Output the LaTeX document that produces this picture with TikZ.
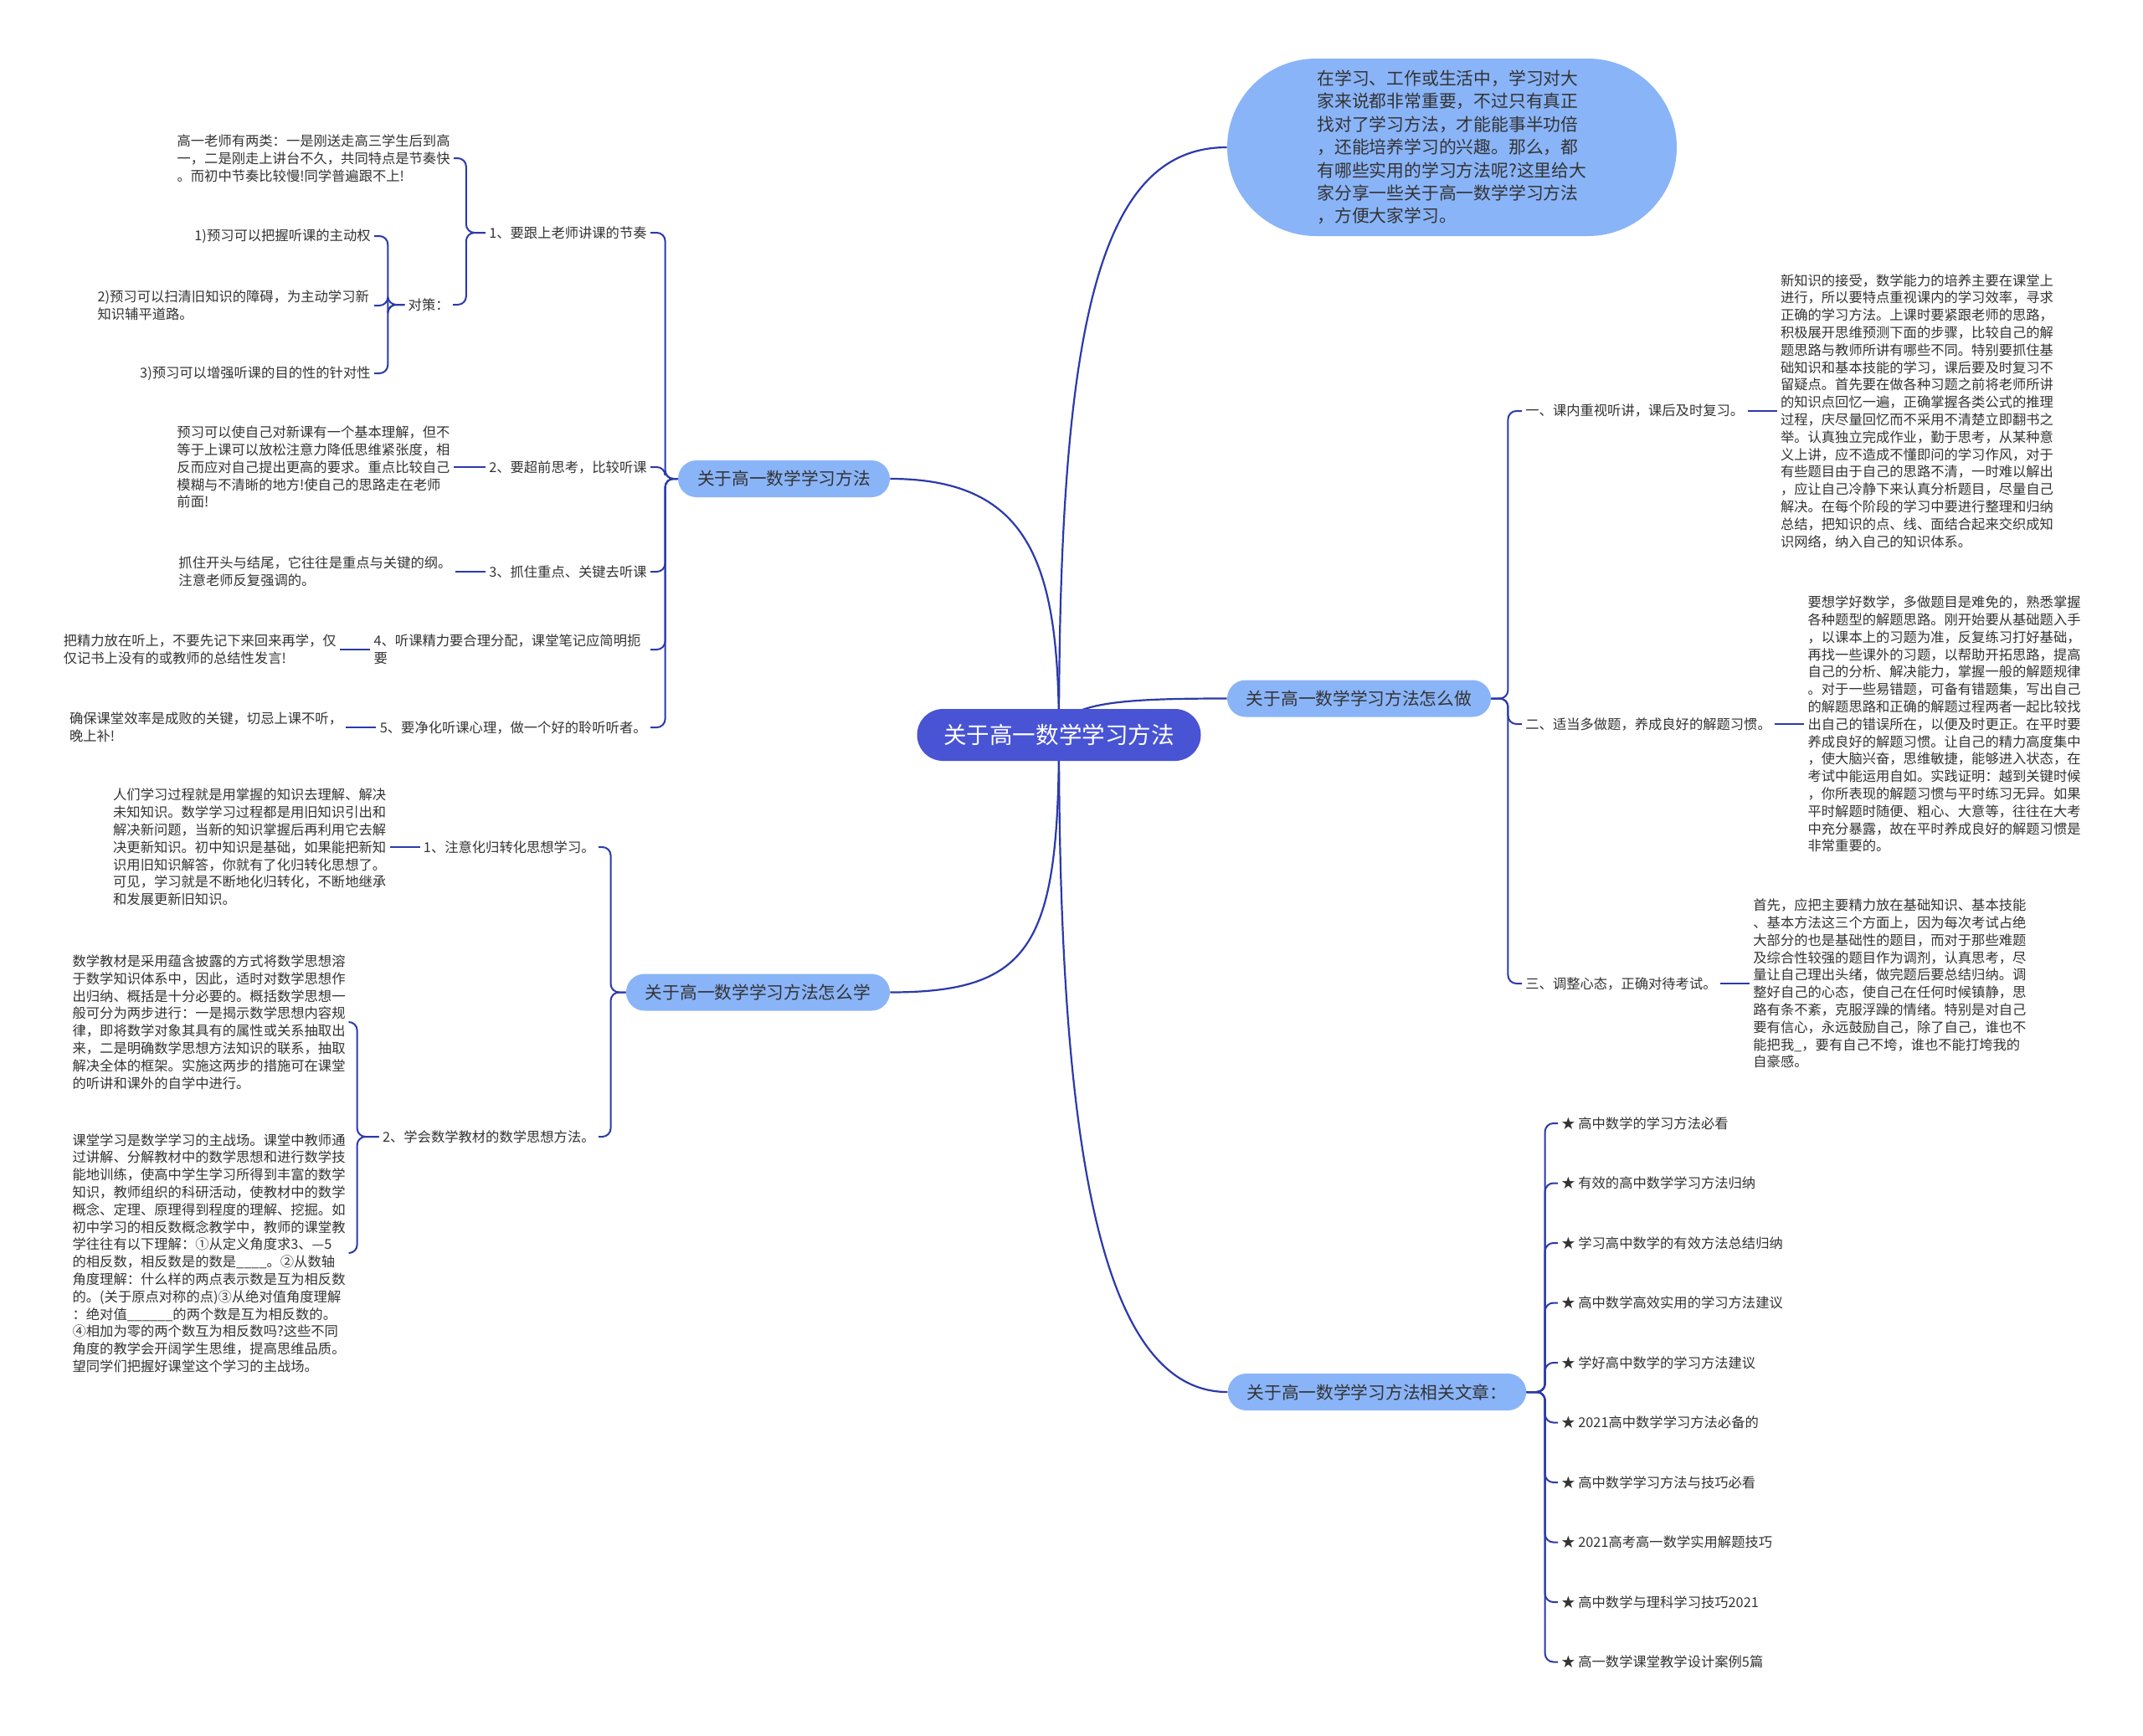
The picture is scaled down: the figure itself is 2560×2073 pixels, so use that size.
\documentclass[tikz,border=0pt]{standalone}
\usepackage{fontspec}
\setmainfont{Noto Sans CJK SC}
\usetikzlibrary{positioning,backgrounds}
\definecolor{linkblue}{RGB}{43,58,170}
\definecolor{rootblue}{RGB}{72,84,212}
\definecolor{topicblue}{RGB}{138,180,248}
\definecolor{inkgray}{RGB}{51,51,51}

\begin{document}
\begin{tikzpicture}[x=0.5pt,y=-0.5pt,node distance=18pt,
  rootbox/.style={fill=rootblue,text=white,rounded corners=15.5pt,minimum width=169.5pt,minimum height=31pt,inner sep=0pt,font=\fontsize{13.8}{16}\selectfont},
  topicbox/.style={fill=topicblue,text=inkgray,rounded corners=11pt,minimum height=22pt,inner xsep=11.5pt,inner ysep=0pt,font=\fontsize{10.35}{12}\selectfont},
  leaf/.style={text=inkgray,inner xsep=2pt,inner ysep=2pt,font=\fontsize{8.15}{10.4}\selectfont},
  note/.style={leaf,align=left,text width=163pt},
  link/.style={draw=linkblue,line width=1pt,rounded corners=5pt},
  trunk/.style={draw=linkblue,line width=1.1pt}]
  \useasboundingbox (0,0) rectangle (2560,2073);

  % centre and main topics
  \node[rootbox] (root) at (1265,878) {关于高一数学学习方法};
  \node[topicbox,minimum width=268.5pt,minimum height=106pt,rounded corners=53pt,font=\fontsize{10.4}{13.7}\selectfont,align=left,text width=161pt] (intro) at (1734.5,176)
    {在学习、工作或生活中，学习对大\\家来说都非常重要，不过只有真正\\找对了学习方法，才能能事半功倍\\，还能培养学习的兴趣。那么，都\\有哪些实用的学习方法呢?这里给大\\家分享一些关于高一数学学习方法\\，方便大家学习。};
  \node[topicbox] (b1) at (936.5,572) {关于高一数学学习方法};
  \node[topicbox] (b2) at (1623.5,834.5) {关于高一数学学习方法怎么做};
  \node[topicbox] (b3) at (905.5,1185.5) {关于高一数学学习方法怎么学};
  \node[topicbox] (b4) at (1645,1663) {关于高一数学学习方法相关文章：};

  % left, upper
  \node[leaf,anchor=east] (c1) at (777,278) {1、要跟上老师讲课的节奏};
  \node[leaf,anchor=east] (c2) at (777,558) {2、要超前思考，比较听课};
  \node[leaf,anchor=east] (c3) at (777,683) {3、抓住重点、关键去听课};
  \node[note,anchor=east] (c4) at (777,776) {4、听课精力要合理分配，课堂笔记应简明扼\\要};
  \node[leaf,anchor=east] (c5) at (777,869) {5、要净化听课心理，做一个好的聆听听者。};

  \node[note,anchor=east] (c1a) at (542,189)
    {高一老师有两类：一是刚送走高三学生后到高\\一，二是刚走上讲台不久，共同特点是节奏快\\。而初中节奏比较慢!同学普遍跟不上!};
  \node[leaf,anchor=east] (c1b) at (541,364) {对策：};
  \node[leaf,anchor=east] (c1b1) at (447,282) {1)预习可以把握听课的主动权};
  \node[note,anchor=east] (c1b2) at (447,365) {2)预习可以扫清旧知识的障碍，为主动学习新\\知识辅平道路。};
  \node[leaf,anchor=east] (c1b3) at (447,446) {3)预习可以增强听课的目的性的针对性};

  \node[note,left=19pt of c2] (c2a)
    {预习可以使自己对新课有一个基本理解，但不\\等于上课可以放松注意力降低思维紧张度，相\\反而应对自己提出更高的要求。重点比较自己\\模糊与不清晰的地方!使自己的思路走在老师\\前面!};
  \node[note,left=of c3] (c3a) {抓住开头与结尾，它往往是重点与关键的纲。\\注意老师反复强调的。};
  \node[note,left=of c4] (c4a) {把精力放在听上，不要先记下来回来再学，仅\\仅记书上没有的或教师的总结性发言!};
  \node[note,left=of c5] (c5a) {确保课堂效率是成败的关键，切忌上课不听，\\晚上补!};

  % left, lower
  \node[leaf,anchor=east] (d1) at (715,1012) {1、注意化归转化思想学习。};
  \node[leaf,anchor=east] (d2) at (715,1358) {2、学会数学教材的数学思想方法。};
  \node[note,left=of d1] (d1a)
    {人们学习过程就是用掌握的知识去理解、解决\\未知知识。数学学习过程都是用旧知识引出和\\解决新问题，当新的知识掌握后再利用它去解\\决更新知识。初中知识是基础，如果能把新知\\识用旧知识解答，你就有了化归转化思想了。\\可见，学习就是不断地化归转化，不断地继承\\和发展更新旧知识。};
  \node[note,anchor=east] (d2a) at (417,1221)
    {数学教材是采用蕴含披露的方式将数学思想溶\\于数学知识体系中，因此，适时对数学思想作\\出归纳、概括是十分必要的。概括数学思想一\\般可分为两步进行：一是揭示数学思想内容规\\律，即将数学对象其具有的属性或关系抽取出\\来，二是明确数学思想方法知识的联系，抽取\\解决全体的框架。实施这两步的措施可在课堂\\的听讲和课外的自学中进行。};
  \node[note,anchor=east] (d2b) at (417,1497)
    {课堂学习是数学学习的主战场。课堂中教师通\\过讲解、分解教材中的数学思想和进行数学技\\能地训练，使高中学生学习所得到丰富的数学\\知识，教师组织的科研活动，使教材中的数学\\概念、定理、原理得到程度的理解、挖掘。如\\初中学习的相反数概念教学中，教师的课堂教\\学往往有以下理解：①从定义角度求3、—5\\的相反数，相反数是的数是\_\_\_\_。②从数轴\\角度理解：什么样的两点表示数是互为相反数\\的。(关于原点对称的点)③从绝对值角度理解\\：绝对值\_\_\_\_\_\_的两个数是互为相反数的。\\④相加为零的两个数互为相反数吗?这些不同\\角度的教学会开阔学生思维，提高思维品质。\\望同学们把握好课堂这个学习的主战场。};

  % right
  \node[leaf,anchor=west] (r1) at (1818,491) {一、课内重视听讲，课后及时复习。};
  \node[leaf,anchor=west] (r2) at (1818,865) {二、适当多做题，养成良好的解题习惯。};
  \node[leaf,anchor=west] (r3) at (1818,1175) {三、调整心态，正确对待考试。};
  \node[note,right=17.5pt of r1] (r1a)
    {新知识的接受，数学能力的培养主要在课堂上\\进行，所以要特点重视课内的学习效率，寻求\\正确的学习方法。上课时要紧跟老师的思路，\\积极展开思维预测下面的步骤，比较自己的解\\题思路与教师所讲有哪些不同。特别要抓住基\\础知识和基本技能的学习，课后要及时复习不\\留疑点。首先要在做各种习题之前将老师所讲\\的知识点回忆一遍，正确掌握各类公式的推理\\过程，庆尽量回忆而不采用不清楚立即翻书之\\举。认真独立完成作业，勤于思考，从某种意\\义上讲，应不造成不懂即问的学习作风，对于\\有些题目由于自己的思路不清，一时难以解出\\，应让自己冷静下来认真分析题目，尽量自己\\解决。在每个阶段的学习中要进行整理和归纳\\总结，把知识的点、线、面结合起来交织成知\\识网络，纳入自己的知识体系。};
  \node[note,right=17.5pt of r2] (r2a)
    {要想学好数学，多做题目是难免的，熟悉掌握\\各种题型的解题思路。刚开始要从基础题入手\\，以课本上的习题为准，反复练习打好基础，\\再找一些课外的习题，以帮助开拓思路，提高\\自己的分析、解决能力，掌握一般的解题规律\\。对于一些易错题，可备有错题集，写出自己\\的解题思路和正确的解题过程两者一起比较找\\出自己的错误所在，以便及时更正。在平时要\\养成良好的解题习惯。让自己的精力高度集中\\，使大脑兴奋，思维敏捷，能够进入状态，在\\考试中能运用自如。实践证明：越到关键时候\\，你所表现的解题习惯与平时练习无异。如果\\平时解题时随便、粗心、大意等，往往在大考\\中充分暴露，故在平时养成良好的解题习惯是\\非常重要的。};
  \node[note,right=17.5pt of r3] (r3a)
    {首先，应把主要精力放在基础知识、基本技能\\、基本方法这三个方面上，因为每次考试占绝\\大部分的也是基础性的题目，而对于那些难题\\及综合性较强的题目作为调剂，认真思考，尽\\量让自己理出头绪，做完题后要总结归纳。调\\整好自己的心态，使自己在任何时候镇静，思\\路有条不紊，克服浮躁的情绪。特别是对自己\\要有信心，永远鼓励自己，除了自己，谁也不\\能把我\_，要有自己不垮，谁也不能打垮我的\\自豪感。};

  \foreach \ttl [count=\i] in {高中数学的学习方法必看,有效的高中数学学习方法归纳,学习高中数学的有效方法总结归纳,高中数学高效实用的学习方法建议,学好高中数学的学习方法建议,2021高中数学学习方法必备的,高中数学学习方法与技巧必看,2021高考高一数学实用解题技巧,高中数学与理科学习技巧2021,高一数学课堂教学设计案例5篇}
    {\node[leaf,anchor=west] (s\i) at (1861,{1342+71.5*(\i-1)}) {★ \ttl};}

  % connectors
  \begin{scope}[on background layer]
    \fill[white] (0,0) rectangle (2560,2073);
    \draw[trunk] (root.center) .. controls +(0,-500) and +(-150,0) .. (intro.west);
    \draw[trunk] (root.center) .. controls +(0,-200) and +(170,0) .. (b1.east);
    \draw[trunk] (root.center) .. controls +(0,-40) and +(-120,0) .. (b2.west);
    \draw[trunk] (root.center) .. controls +(0,250) and +(170,0) .. (b3.east);
    \draw[trunk] (root.center) .. controls +(0,500) and +(-150,0) .. (b4.west);
  \end{scope}
  \foreach \x in {c1,c2,c3,c4,c5}{\draw[link] (b1.west) -- ++(-15,0) |- (\x.east);}
  \foreach \x in {c1a,c1b}{\draw[link] (c1.west) -- ++(-23,0) |- (\x.east);}
  \foreach \x in {c1b1,c1b2,c1b3}{\draw[link] (c1b.west) -- ++(-20,0) |- (\x.east);}
  \foreach \x/\y in {c2/c2a,c3/c3a,c4/c4a,c5/c5a,d1/d1a}{\draw[link] (\x.west) -- (\y.east);}
  \foreach \x in {d1,d2}{\draw[link] (b3.west) -- ++(-18,0) |- (\x.east);}
  \foreach \x in {d2a,d2b}{\draw[link] (d2.west) -- ++(-26,0) |- (\x.east);}
  \foreach \x in {r1,r2,r3}{\draw[link] (b2.east) -- ++(20,0) |- (\x.west);}
  \foreach \x/\y in {r1/r1a,r2/r2a,r3/r3a}{\draw[link] (\x.east) -- (\y.west);}
  \foreach \i in {1,...,10}{\draw[link] (b4.east) -- ++(22,0) |- (s\i.west);}
\end{tikzpicture}
\end{document}
